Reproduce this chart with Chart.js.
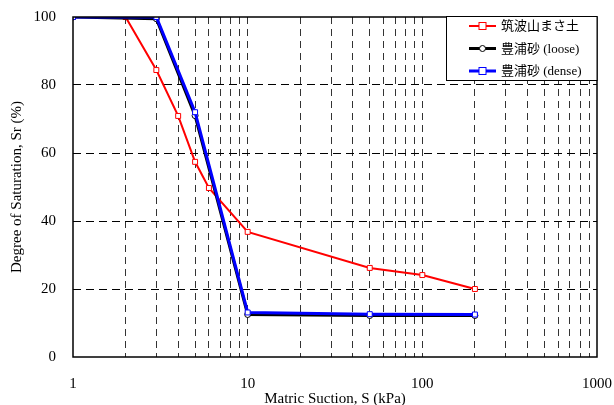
<!DOCTYPE html>
<html>
<head>
<meta charset="utf-8">
<script src="https://cdn.jsdelivr.net/npm/chart.js@4/dist/chart.umd.min.js"></script>
<style>
  html, body { margin: 0; padding: 0; background: #fff; }
  #wrap { width: 614px; height: 405px; }
</style>
</head>
<body>
<div id="wrap"><canvas id="swcc"></canvas></div>
<script>
"use strict";

// 水分特性曲線: サクション (kPa) と飽和度 (%)
const suctionTsukuba = [1, 2, 3, 4, 5, 6, 10, 50, 100, 200];
const srTsukuba = [100, 100, 84.4, 70.9, 57.4, 49.7, 36.8, 26.2, 24.1, 20.0];

const suctionToyoura = [1, 3, 5, 10, 50, 200];
const srLoose = [100, 99.5, 71.0, 12.5, 12.2, 12.2];
const srDense = [100, 100, 72.0, 13.1, 12.6, 12.5];

const seriesNames = ["筑波山まさ土", "豊浦砂 (loose)", "豊浦砂 (dense)"];
const xTickLabels = [1, 10, 100, 1000];
const yTickLabels = [0, 20, 40, 60, 80, 100];

const serif = "'Liberation Serif', 'Times New Roman', serif";

function toPoints(xs, ys) {
    return xs.map((x, i) => ({ x: x, y: ys[i] }));
}

// 枠線と凡例ボックスをチャート領域内に描く
const framePlugin = {
    id: "frame",
    afterDatasetsDraw(chart) {
        const { ctx, chartArea: a } = chart;
        ctx.save();
        ctx.strokeStyle = "#000";
        ctx.lineWidth = 1.5;
        ctx.strokeRect(a.left, a.top, a.right - a.left, a.bottom - a.top);

        // 凡例
        const bx = 446, by = a.top - 1, bw = a.right - bx, bh = 64;
        ctx.fillStyle = "#fff";
        ctx.fillRect(bx, by, bw, bh);
        ctx.lineWidth = 1;
        ctx.strokeRect(bx + 0.5, by + 0.5, bw - 0.5, bh);
        chart.data.datasets.forEach((ds, i) => {
            const y = by + 10 + i * 22.5;
            ctx.strokeStyle = ds.borderColor;
            ctx.lineWidth = ds.borderWidth;
            ctx.beginPath();
            ctx.moveTo(469, y);
            ctx.lineTo(496, y);
            ctx.stroke();
            ctx.fillStyle = "#fff";
            ctx.lineWidth = 1;
            if (ds.pointStyle === "circle") {
                ctx.beginPath();
                ctx.arc(482.5, y, 3, 0, Math.PI * 2);
                ctx.fill();
                ctx.stroke();
            } else {
                ctx.fillRect(479, y - 3.5, 7, 7);
                ctx.strokeRect(479, y - 3.5, 7, 7);
            }
            ctx.fillStyle = "#000";
            ctx.font = "13px " + serif + ", 'Noto Sans CJK JP'";
            ctx.textBaseline = "middle";
            ctx.textAlign = "left";
            ctx.fillText(ds.label, 501, y + 1);
        });
        ctx.restore();
    }
};

new Chart(document.getElementById("swcc"), {
    type: "line",
    data: {
        datasets: [
            {
                label: seriesNames[0],
                data: toPoints(suctionTsukuba, srTsukuba),
                borderColor: "#ff0000",
                borderWidth: 2,
                pointStyle: "rect",
                pointRadius: 3.5,
                pointBackgroundColor: "#fff",
                pointBorderColor: "#ff0000",
                pointBorderWidth: 1,
                order: 3
            },
            {
                label: seriesNames[1],
                data: toPoints(suctionToyoura, srLoose),
                borderColor: "#000",
                borderWidth: 3,
                pointStyle: "circle",
                pointRadius: 3,
                pointBackgroundColor: "#fff",
                pointBorderColor: "#000",
                pointBorderWidth: 1,
                order: 2
            },
            {
                label: seriesNames[2],
                data: toPoints(suctionToyoura, srDense),
                borderColor: "#0000ff",
                borderWidth: 3,
                pointStyle: "rect",
                pointRadius: 3.5,
                pointBackgroundColor: "#fff",
                pointBorderColor: "#0000ff",
                pointBorderWidth: 1,
                order: 1
            }
        ]
    },
    options: {
        responsive: true,
        maintainAspectRatio: false,
        animation: false,
        layout: { padding: { left: 0, right: 17, top: 17, bottom: 0 } },
        plugins: {
            legend: { display: false },
            tooltip: { enabled: false }
        },
        elements: { line: { tension: 0 } },
        scales: {
            x: {
                type: "logarithmic",
                min: 1,
                max: 1000,
                afterBuildTicks(scale) {
                    const t = [];
                    for (let d = 1; d < 1000; d *= 10) {
                        for (let m = 1; m < 10; m++) t.push({ value: m * d });
                    }
                    t.push({ value: 1000 });
                    scale.ticks = t;
                },
                afterFit(scale) {
                    scale.height = 48;
                    scale.paddingLeft = 0;
                    scale.paddingRight = 0;
                },
                border: { display: false, dash: [7, 5] },
                grid: {
                    drawTicks: false,
                    color: ctx => (ctx.tick && (ctx.tick.value === 1 || ctx.tick.value === 1000)) ? "rgba(0,0,0,0)" : "#333",
                    lineWidth: 1
                },
                ticks: {
                    autoSkip: false,
                    maxRotation: 0,
                    padding: 18,
                    color: "#000",
                    font: { family: serif, size: 15 },
                    callback: v => xTickLabels.includes(v) ? String(v) : ""
                },
                title: {
                    display: true,
                    text: "Matric Suction, S (kPa)",
                    color: "#000",
                    font: { family: serif, size: 15 },
                    padding: { top: 0, bottom: -3 }
                }
            },
            y: {
                min: 0,
                max: 100,
                afterBuildTicks(scale) {
                    scale.ticks = yTickLabels.map(v => ({ value: v }));
                },
                afterFit(scale) {
                    scale.width = 73;
                    scale.paddingTop = 0;
                    scale.paddingBottom = 0;
                },
                border: { display: false, dash: [8, 5] },
                grid: {
                    drawTicks: false,
                    color: ctx => (ctx.tick && (ctx.tick.value === 0 || ctx.tick.value === 100)) ? "rgba(0,0,0,0)" : "#000",
                    lineWidth: 1
                },
                ticks: {
                    padding: 17,
                    color: "#000",
                    font: { family: serif, size: 15 }
                },
                title: {
                    display: true,
                    text: "Degree of Saturation, Sr (%)",
                    color: "#000",
                    font: { family: serif, size: 15 },
                    padding: { top: 8, bottom: 0 }
                }
            }
        }
    },
    plugins: [framePlugin]
});
</script>
</body>
</html>
